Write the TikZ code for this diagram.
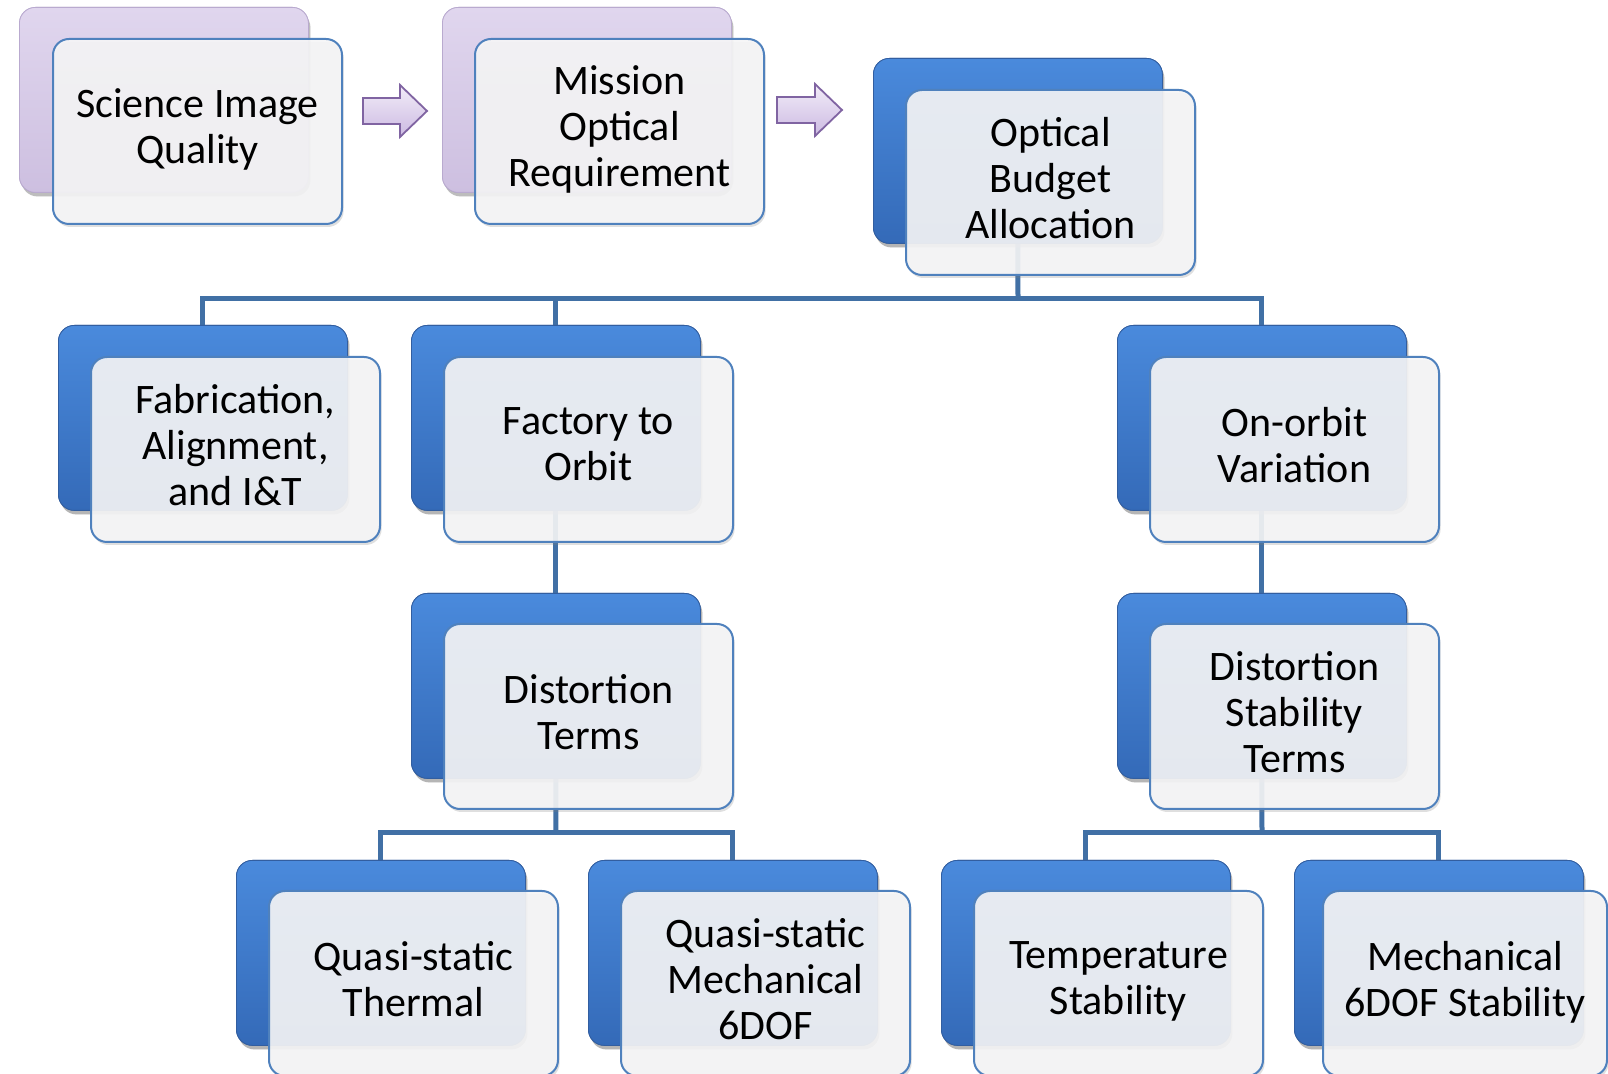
\documentclass[tikz,border=0pt]{standalone}
\usepackage{fontspec}
\setmainfont{Carlito}
\usetikzlibrary{shadows,calc}
\definecolor{bluetop}{RGB}{74,138,220}
\definecolor{bluebot}{RGB}{52,106,184}
\definecolor{blueedge}{RGB}{50,94,160}
\definecolor{purptop}{RGB}{224,214,238}
\definecolor{purpbot}{RGB}{205,191,224}
\definecolor{purpedge}{RGB}{185,170,207}
\definecolor{frontfill}{RGB}{246,246,247}
\definecolor{frontedge}{RGB}{79,129,189}
\definecolor{conncol}{RGB}{65,112,165}
\definecolor{arrtop}{RGB}{242,236,248}
\definecolor{arrbot}{RGB}{204,186,226}
\definecolor{arredge}{RGB}{128,100,162}
\newcommand{\boxtopstrut}{\rule{0pt}{17pt}}
\newcommand{\boxbotstrut}{\rule[-5pt]{0pt}{5pt}}
\tikzset{
  boxbase/.style={rounded corners=8pt, minimum width=144.5pt, minimum height=92.5pt,
    inner sep=0pt, anchor=north west},
  backblue/.style={boxbase, top color=bluetop, bottom color=bluebot, draw=blueedge, line width=0.4pt,
    drop shadow={opacity=0.35, shadow xshift=1pt, shadow yshift=-2pt}},
  backpurple/.style={boxbase, top color=purptop, bottom color=purpbot, draw=purpedge, line width=0.4pt,
    drop shadow={opacity=0.3, shadow xshift=1pt, shadow yshift=-2pt}},
  frontbox/.style={boxbase, fill=frontfill, fill opacity=0.9, text opacity=1, draw=frontedge, draw opacity=1,
    line width=1pt, align=center, font=\fontsize{21}{23}\selectfont,
    execute at begin node=\boxtopstrut, execute at end node=\boxbotstrut,
    drop shadow={opacity=0.25, shadow xshift=0.8pt, shadow yshift=-1.5pt}},
  conn/.style={draw=conncol, line width=2.5pt},
  blockarrow/.style={top color=arrtop, bottom color=arrbot, draw=arredge, line width=0.9pt, line join=miter}
}
\begin{document}
\begin{tikzpicture}[x=0.5pt, y=-0.5pt]
\fill[white] (0,0) rectangle (1608,1074);
\useasboundingbox (0,0) rectangle (1608,1074);

% coordinates for the connector junctions
\coordinate (j1) at (1018,299);
\coordinate (j2) at (556,833);
\coordinate (j3) at (1262,833);

% back boxes
\node[backpurple] (sciB) at (19,7) {};
\node[backpurple] (morB) at (442,7) {};
\node[backblue] (obaB) at (873,58) {};
\node[backblue] (fabB) at (58,325) {};
\node[backblue] (ftoB) at (411,325) {};
\node[backblue] (oovB) at (1117,325) {};
\node[backblue] (dtB) at (411,593) {};
\node[backblue] (dstB) at (1117,593) {};
\node[backblue] (qstB) at (236,860) {};
\node[backblue] (qsmB) at (588,860) {};
\node[backblue] (tsB) at (941,860) {};
\node[backblue] (msB) at (1294,860) {};

% connectors
\draw[conn] (obaB.south) -- (j1);
\draw[conn] (fabB.north) |- (j1);
\draw[conn] (ftoB.north) |- (j1);
\draw[conn] (oovB.north) |- (j1);
\draw[conn] (ftoB.south) -- (dtB.north);
\draw[conn] (oovB.south) -- (dstB.north);
\draw[conn] (dtB.south) -- (j2);
\draw[conn] (qstB.north) |- (j2);
\draw[conn] (qsmB.north) |- (j2);
\draw[conn] (dstB.south) -- (j3);
\draw[conn] (tsB.north) |- (j3);
\draw[conn] (msB.north) |- (j3);

% redraw back boxes above the connectors
\node[backpurple] at (19,7) {};
\node[backpurple] at (442,7) {};
\node[backblue] at (873,58) {};
\node[backblue] at (58,325) {};
\node[backblue] at (411,325) {};
\node[backblue] at (1117,325) {};
\node[backblue] at (411,593) {};
\node[backblue] at (1117,593) {};
\node[backblue] at (236,860) {};
\node[backblue] at (588,860) {};
\node[backblue] at (941,860) {};
\node[backblue] at (1294,860) {};

% front boxes
\node[frontbox] (sci) at (52,38) {Science Image\\Quality};
\node[frontbox] (mor) at (474,38) {Mission\\Optical\\Requirement};
\node[frontbox] (oba) at (905,89) {Optical\\Budget\\Allocation};
\node[frontbox] (fab) at (90,356) {Fabrication,\\Alignment,\\and I\&T};
\node[frontbox] (fto) at (443,356) {Factory to\\Orbit};
\node[frontbox] (oov) at (1149,356) {On-orbit\\Variation};
\node[frontbox] (dt) at (443,623) {Distortion\\Terms};
\node[frontbox] (dst) at (1149,623) {Distortion\\Stability\\Terms};
\node[frontbox] (qst) at (268,890) {Quasi-static\\Thermal};
\node[frontbox] (qsm) at (620,890) {Quasi-static\\Mechanical\\6DOF};
\node[frontbox] (ts) at (973,890) {Temperature\\Stability};
\node[frontbox, minimum width=142pt] (ms) at (1322,890) {Mechanical\\6DOF Stability};

% block arrows between the top boxes
\coordinate (a1) at (363,111);
\coordinate (a2) at (777,110);
\draw[blockarrow] (a1) ++(0,-13) -- ++(37,0) -- ++(0,-13) -- ++(27,26) -- ++(-27,26) -- ++(0,-13) -- ++(-37,0) -- cycle;
\draw[blockarrow] (a2) ++(0,-13) -- ++(38,0) -- ++(0,-13) -- ++(27,26) -- ++(-27,26) -- ++(0,-13) -- ++(-38,0) -- cycle;
\end{tikzpicture}
\end{document}
